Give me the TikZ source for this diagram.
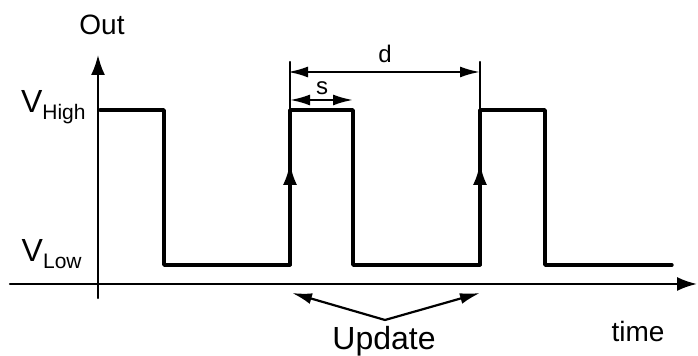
\documentclass[tikz,border=0pt]{standalone}
\usepackage{fontspec}
\setmainfont{Liberation Sans}
\usetikzlibrary{arrows.meta}

\begin{document}
\begin{tikzpicture}[x=0.5pt,y=-0.5pt,line cap=round,line join=round,
  every node/.style={inner sep=0pt},
  axis/.style={line width=1.1pt},
  wave/.style={line width=1.7pt},
  dimline/.style={line width=1.1pt,{Latex[length=10pt,width=5.5pt]}-{Latex[length=10pt,width=5.5pt]}},
  midtip/.style={line width=1.7pt,-{Latex[length=11pt,width=7pt]}}]
  \useasboundingbox (0,0) rectangle (698,356);
  % Achsen
  \draw[axis,-{Latex[length=10pt,width=7pt]}] (98,298) -- (98,55);
  \draw[axis,-{Latex[length=10pt,width=7pt]}] (10,284) -- (697,284);
  \node[font=\fontsize{14}{14}\selectfont,anchor=base] (out) at (102,35) {Out};
  \node[font=\fontsize{14}{14}\selectfont,anchor=base] (time) at (638,342) {time};
  \node[font=\fontsize{16}{16}\selectfont,anchor=base east] (vhigh) at (86,113)
    {V\raisebox{-3.5pt}{\fontsize{10.5}{10}\selectfont High}};
  \node[font=\fontsize{16}{16}\selectfont,anchor=base east] (vlow) at (82,262)
    {V\raisebox{-3.5pt}{\fontsize{10.5}{10}\selectfont Low}};
  % Rechtecksignal
  \draw[wave] (100,110) -- (164,110) -- (164,265) -- (290,265) -- (290,110) -- (353,110)
    -- (353,265) -- (480,265) -- (480,110) -- (545,110) -- (545,265) -- (672,265);
  \coordinate (r1) at (290,265);
  \coordinate (r2) at (480,265);
  \draw[midtip] (r1) -- ++(0,-102);
  \draw[midtip] (r2) -- ++(0,-102);
  % Masse d und s
  \coordinate (da) at (288,72);
  \coordinate (db) at (480,72);
  \coordinate (sb) at (353,100);
  \draw[axis] (290,62) -- (290,110);
  \draw[axis] (480,62) -- (480,110);
  \draw[dimline] (da) -- (db);
  \draw[dimline] (290,100) -- (sb);
  \node[font=\fontsize{12}{12}\selectfont,anchor=base] (d) at (385,63) {d};
  \node[font=\fontsize{12}{12}\selectfont,anchor=base] (s) at (322,95) {s};
  % Update
  \node[font=\fontsize{16}{16}\selectfont,anchor=base] (update) at (384,350) {Update};
  \coordinate (upd) at (385,320);
  \draw[axis,-{Latex[length=10pt,width=5.5pt]}] (upd) -- (292,293);
  \draw[axis,-{Latex[length=10pt,width=5.5pt]}] (upd) -- (480,293);
\end{tikzpicture}
\end{document}
